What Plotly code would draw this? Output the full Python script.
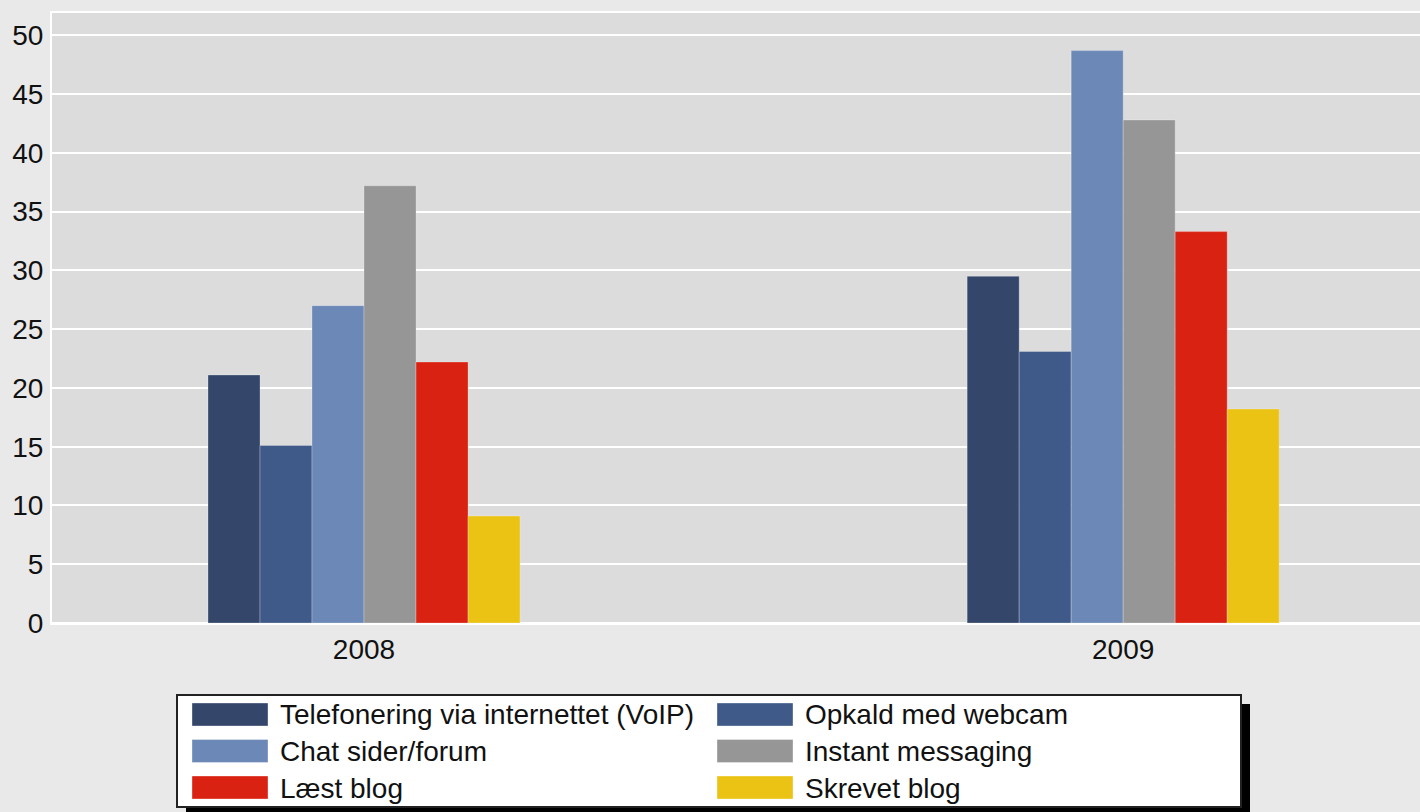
import plotly.graph_objects as go

years = ["2008", "2009"]
series_names = [
    "Telefonering via internettet (VoIP)",
    "Opkald med webcam",
    "Chat sider/forum",
    "Instant messaging",
    "Læst blog",
    "Skrevet blog",
]
values_2008 = [21.1, 15.1, 27.0, 37.2, 22.2, 9.1]
values_2009 = [29.5, 23.1, 48.7, 42.8, 33.3, 18.2]
colors = ["#34476b", "#3f5a88", "#6c88b6", "#969696", "#d92211", "#ebc315"]

W, H = 1420, 812
L, R, T, B = 52, 0, 13, 189
FONT = "Liberation Sans, Arial, sans-serif"
FS = 28

fig = go.Figure()
for i, name in enumerate(series_names):
    fig.add_trace(go.Bar(
        x=years,
        y=[values_2008[i], values_2009[i]],
        name=name,
        marker=dict(color=colors[i], line=dict(color="rgba(255,255,255,0.25)", width=1)),
        showlegend=False,
    ))

pw = W - L - R
ph = H - T - B


def px_x(px):
    return (px - L) / pw


def px_y(py):
    return (H - B - py) / ph


shapes = []
annotations = []
# legend shadow and box
shapes.append(dict(type="rect", xref="paper", yref="paper",
                   x0=px_x(186), x1=px_x(1250), y0=px_y(704), y1=px_y(818),
                   fillcolor="black", line=dict(width=0), layer="above"))
shapes.append(dict(type="rect", xref="paper", yref="paper",
                   x0=px_x(177), x1=px_x(1241), y0=px_y(695), y1=px_y(807),
                   fillcolor="white", line=dict(color="#222222", width=2), layer="above"))
col_x = [192, 717]
row_y = [703, 739.5, 776]
for i, name in enumerate(series_names):
    c = i % 2
    r = i // 2
    x0 = col_x[c]
    y0 = row_y[r]
    shapes.append(dict(type="rect", xref="paper", yref="paper",
                       x0=px_x(x0), x1=px_x(x0 + 76), y0=px_y(y0), y1=px_y(y0 + 23),
                       fillcolor=colors[i], line=dict(color="rgba(255,255,255,0.35)", width=1),
                       layer="above"))
    annotations.append(dict(xref="paper", yref="paper", x=px_x(x0 + 86), y=px_y(y0 + 12),
                            text=name, showarrow=False, xanchor="left", yanchor="middle",
                            font=dict(family=FONT, size=FS, color="#111111")))

fig.update_layout(
    width=W, height=H,
    margin=dict(l=L, r=R, t=T, b=B, pad=0),
    paper_bgcolor="#e9e9e9",
    plot_bgcolor="#dcdcdc",
    barmode="group",
    bargap=0.589,
    bargroupgap=0,
    font=dict(family=FONT, size=FS, color="#111111"),
    shapes=shapes,
    annotations=annotations,
    showlegend=False,
)
fig.update_xaxes(
    type="category",
    range=[-0.411, 1.391],
    showgrid=False,
    showline=True, mirror=True, linecolor="white", linewidth=2,
    ticks="", ticklabelstandoff=0,
    tickfont=dict(family=FONT, size=FS, color="#111111"),
)
fig.update_yaxes(
    range=[0, 51.9],
    tickmode="linear", tick0=0, dtick=5,
    showgrid=True, gridcolor="white", gridwidth=2,
    zeroline=True, zerolinecolor="white", zerolinewidth=2,
    showline=True, linecolor="white", linewidth=2,
    ticks="", ticklabelstandoff=1,
    tickfont=dict(family=FONT, size=FS, color="#111111"),
)

fig.write_html(
    "out.html",
    config={"displayModeBar": False},
    post_script="document.body.style.margin='0';document.body.style.background='#e9e9e9';",
)
